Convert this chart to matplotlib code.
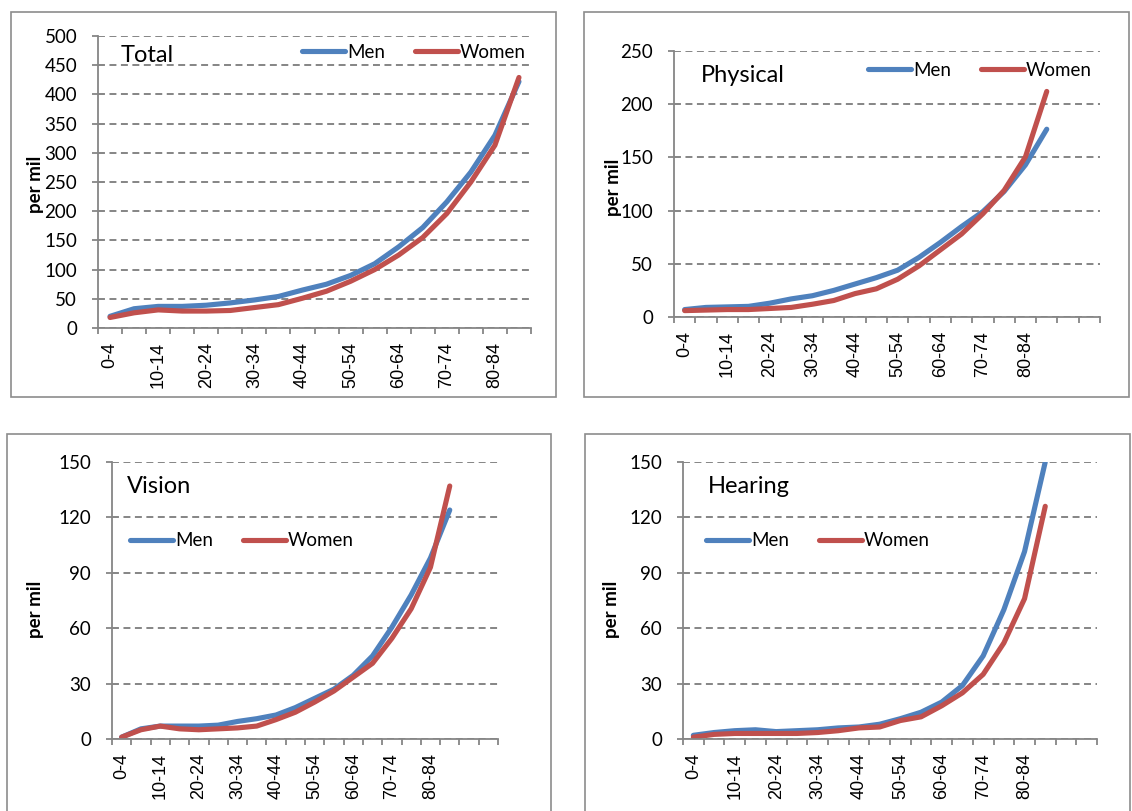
import matplotlib
matplotlib.use('Agg')
import matplotlib.pyplot as plt
from matplotlib.patches import Rectangle
from matplotlib.ticker import FixedLocator

# age groups (x categories)
ages = ['0-4', '5-9', '10-14', '15-19', '20-24', '25-29', '30-34', '35-39', '40-44',
        '45-49', '50-54', '55-59', '60-64', '65-69', '70-74', '75-79', '80-84', '85+']

# per mil values
total_men = [20, 33, 37, 37, 39, 43, 48, 54, 65, 75, 90, 110, 139, 172, 216, 267, 330, 422]
total_women = [18, 26, 31, 29, 29, 30, 35, 40, 51, 63, 80, 100, 125, 155, 196, 250, 313, 429]
physical_men = [7, 9, 9.5, 10, 13, 17, 20, 25, 31, 37, 44, 56, 70, 85, 99, 118, 143, 176.5]
physical_women = [6, 6.5, 7, 7, 8, 9, 12, 15.5, 22, 26.5, 35.5, 48, 63, 78, 97, 119, 150.5, 212]
vision_men = [1, 5.5, 7, 7, 7, 7.5, 9.5, 11, 13, 17, 22, 27, 34.5, 45, 60.5, 78, 98, 124]
vision_women = [1, 5, 7, 5.5, 5, 5.5, 6, 7, 10.5, 14.5, 20, 26, 33.5, 41, 54.5, 70.5, 93, 137]
hearing_men = [2, 3.5, 4.5, 5, 4, 4.5, 5, 6, 6.5, 8, 11, 14.5, 20, 29, 45, 70, 101.5, 150]
hearing_women = [1, 2.5, 3, 3, 3, 3, 3.5, 4.5, 6, 6.5, 10, 12, 18, 25, 35, 52, 76, 126]

BLUE = '#4F81BD'
RED = '#C0504D'
GRID = '#767676'
AXIS = '#868686'
FRAME = '#8c8c8c'

plt.rcParams['font.family'] = ['Lato', 'DejaVu Sans']

W, H = 1132, 811
fig = plt.figure(figsize=(W / 100, H / 100), dpi=100)


def fx(px):
    return px / W


def fy(py):
    return 1 - py / H


def draw_panel(title, men, women, ymax, ystep, ncat, box, frame, title_xy, leg_xy, ylab_xy):
    # frame around the chart
    x0, y0, x1, y1 = frame
    fig.add_artist(Rectangle((fx(x0), fy(y1)), fx(x1 - x0), (y1 - y0) / H,
                             transform=fig.transFigure, fill=False, ec=FRAME, lw=1.2))

    l, t, r, b = box
    ax = fig.add_axes([fx(l), fy(b), fx(r - l), (b - t) / H])
    x = list(range(len(ages)))
    ax.plot(x, men, color=BLUE, lw=3.7, solid_capstyle='round', solid_joinstyle='round', label='Men')
    ax.plot(x, women, color=RED, lw=3.7, solid_capstyle='round', solid_joinstyle='round', label='Women')

    ax.set_xlim(-0.5, ncat - 0.5)
    ax.set_ylim(0, ymax)
    ax.set_yticks(list(range(0, ymax + 1, ystep)))
    ax.set_xticks(x[::2])
    ax.set_xticklabels(ages[::2], rotation=90, family=['Liberation Sans'], fontsize=13)
    ax.xaxis.set_minor_locator(FixedLocator([i - 0.5 for i in range(ncat + 1)]))
    ax.tick_params(axis='x', which='major', length=0, pad=10)
    ax.tick_params(axis='x', which='minor', length=4, width=1.3, color=AXIS, direction='out')
    ax.tick_params(axis='y', length=4.5, width=1.3, color=AXIS, pad=10.5, labelsize=13.5)

    ax.grid(axis='y', color=GRID, lw=1.25, ls=(0, (4, 2.6)))
    ax.set_axisbelow(True)
    for s in ['top', 'right']:
        ax.spines[s].set_visible(False)
    for s in ['left', 'bottom']:
        ax.spines[s].set_color(AXIS)
        ax.spines[s].set_linewidth(1.3)

    fig.text(fx(title_xy[0]), fy(title_xy[1]), title, fontsize=17, ha='left', va='baseline')
    fig.text(fx(ylab_xy[0]), fy(ylab_xy[1]), 'per mil', rotation=90, fontsize=13.5,
             fontweight='bold', ha='center', va='center')

    ax.legend(loc='center left', bbox_to_anchor=(fx(leg_xy[0]), fy(leg_xy[1])),
              bbox_transform=fig.transFigure, ncol=2, frameon=False, fontsize=13.5,
              handlelength=2.3, handletextpad=0.1, columnspacing=1.6,
              borderpad=0, borderaxespad=0)
    return ax


draw_panel('Total', total_men, total_women, 500, 50, 18,
           (98, 36, 531, 328), (11, 12, 556, 397), (121, 62), (302, 52), (35, 184))
draw_panel('Physical', physical_men, physical_women, 250, 50, 20,
           (674, 51, 1100, 317), (584, 12, 1129, 397), (701, 82), (868, 70), (613, 187))
draw_panel('Vision', vision_men, vision_women, 150, 30, 20,
           (112, 462, 498, 739), (7, 434, 551, 830), (127, 493), (130, 541), (36, 609))
draw_panel('Hearing', hearing_men, hearing_women, 150, 30, 20,
           (683, 462, 1097, 739), (585, 434, 1130, 830), (708, 493), (706, 541), (612, 609))

fig.savefig('out.png', dpi=100)
